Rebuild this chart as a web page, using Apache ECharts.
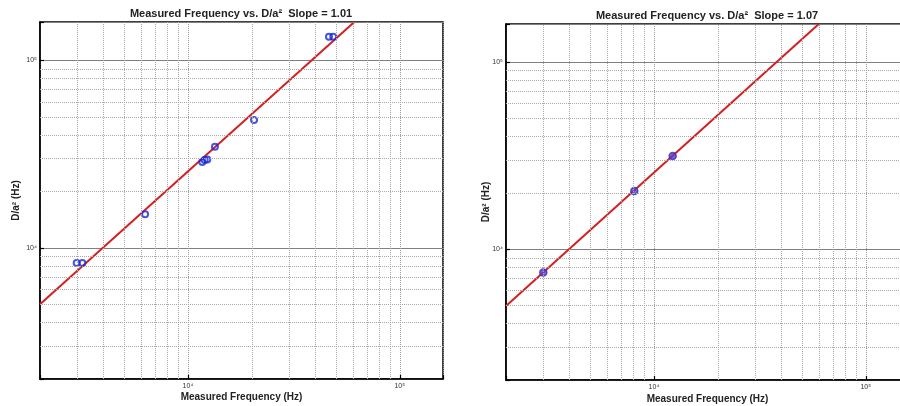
<!DOCTYPE html>
<html>
<head>
<meta charset="utf-8">
<script src="https://cdn.jsdelivr.net/npm/echarts@6/dist/echarts.min.js"></script>
<style>
html,body{margin:0;padding:0;background:#fff;}
#c{width:900px;height:406px;}
</style>
</head>
<body>
<div id="c"></div>
<script>
// ---- data ----
const leftTitle = 'Measured Frequency vs. D/a²  Slope = 1.01';
const rightTitle = 'Measured Frequency vs. D/a²  Slope = 1.07';
const xName = 'Measured Frequency (Hz)';
const yName = 'D/a² (Hz)';
const axisMin = 2000;
const axisMax = 160000;
const minorGrid = [3000, 4000, 5000, 6000, 7000, 8000, 9000, 20000, 30000, 40000, 50000, 60000, 70000, 80000, 90000];

const leftX = [2980, 3170, 6270, 11680, 11990, 12330, 13400, 20500, 46300, 48500];
const leftY = [8300, 8300, 15100, 28700, 29400, 29600, 34600, 48000, 133700, 133700];
const leftFitX = [2000, 61000];
const leftFitY = [5000, 160000];

const rightX = [3000, 8070, 12250];
const rightY = [7500, 20500, 31500];
const rightFitX = [2000, 60000];
const rightFitY = [4980, 160000];

// ---- chart ----
const FONT = 'Liberation Sans, Arial, sans-serif';
const chart = echarts.init(document.getElementById('c'), null, {renderer: 'canvas'});

function pairs(xs, ys) { return xs.map((x, i) => [x, ys[i]]); }
function isDecade(v) { const l = Math.log10(v); return Math.abs(l - Math.round(l)) < 1e-6; }
const sup = {'0':'⁰','1':'¹','2':'²','3':'³','4':'⁴','5':'⁵','6':'⁶','7':'⁷','8':'⁸','9':'⁹'};
function decadeLabel(v) {
  if (!isDecade(v)) return '';
  const e = String(Math.round(Math.log10(v)));
  return '10' + e.split('').map(c => sup[c]).join('');
}

function xAxisCfg(gi, gap) {
  return {
    type: 'log', logBase: 10, gridIndex: gi, min: axisMin, max: axisMax,
    name: xName, nameLocation: 'middle', nameGap: gap, nameMoveOverlap: false,
    nameTextStyle: {fontFamily: FONT, fontWeight: 'bold', fontSize: 10, color: '#222'},
    axisLine: {show: true, onZero: false, lineStyle: {color: '#000', width: 1.5}},
    axisTick: {show: true, inside: true, length: 4, lineStyle: {color: '#000', width: 1.2}},
    axisLabel: {formatter: decadeLabel, fontFamily: FONT, fontSize: 7, color: '#333', margin: 4, showMinLabel: true, showMaxLabel: true},
    splitLine: {show: true, lineStyle: {color: '#999', type: 'dotted', width: 1}},
    minorTick: {show: false}, minorSplitLine: {show: false}
  };
}
function yAxisCfg(gi, gap) {
  return {
    type: 'log', logBase: 10, gridIndex: gi, min: axisMin, max: axisMax,
    name: yName, nameLocation: 'middle', nameGap: gap, nameMoveOverlap: false,
    nameTextStyle: {fontFamily: FONT, fontWeight: 'bold', fontSize: 10, color: '#222'},
    axisLine: {show: true, onZero: false, lineStyle: {color: '#000', width: 1.5}},
    axisTick: {show: true, inside: true, length: 4, lineStyle: {color: '#000', width: 1.2}},
    axisLabel: {formatter: decadeLabel, fontFamily: FONT, fontSize: 7, color: '#333', margin: 3},
    splitLine: {show: true, lineStyle: {color: '#808080', type: 'solid', width: 1}},
    minorTick: {show: false}, minorSplitLine: {show: false}
  };
}
function gridLinesSeries(gi) {
  const data = [];
  minorGrid.forEach(v => { data.push({xAxis: v}); data.push({yAxis: v}); });
  return {
    type: 'line', xAxisIndex: gi, yAxisIndex: gi, data: [], z: 1, silent: true,
    markLine: {
      silent: true, symbol: ['none', 'none'], animation: false,
      label: {show: false},
      lineStyle: {color: '#a8a8a8', type: 'dotted', width: 1},
      emphasis: {disabled: true},
      data: data
    }
  };
}

const option = {
  backgroundColor: '#fff',
  animation: false,
  grid: [
    {left: 40, top: 22, width: 403, height: 357, show: true, borderColor: '#000', borderWidth: 1.5, backgroundColor: 'transparent', outerBoundsMode: 'none', containLabel: false},
    {left: 506, top: 24, width: 403, height: 356, show: true, borderColor: '#000', borderWidth: 1.5, backgroundColor: 'transparent', outerBoundsMode: 'none', containLabel: false}
  ],
  xAxis: [xAxisCfg(0, 13), xAxisCfg(1, 14)],
  yAxis: [yAxisCfg(0, 19), yAxisCfg(1, 15)],
  graphic: [
    {type: 'text', x: 241, y: 14, style: {text: leftTitle, font: 'bold 11px ' + FONT, fill: '#222', align: 'center', verticalAlign: 'middle'}},
    {type: 'text', x: 707, y: 16, style: {text: rightTitle, font: 'bold 11px ' + FONT, fill: '#222', align: 'center', verticalAlign: 'middle'}}
  ],
  series: [
    gridLinesSeries(0),
    gridLinesSeries(1),
    {
      type: 'line', xAxisIndex: 0, yAxisIndex: 0, data: pairs(leftFitX, leftFitY),
      showSymbol: false, symbol: 'none', clip: true, z: 3,
      lineStyle: {color: '#d42020', width: 2}
    },
    {
      type: 'scatter', xAxisIndex: 0, yAxisIndex: 0, data: pairs(leftX, leftY),
      symbol: 'circle', symbolSize: 6, z: 4,
      itemStyle: {color: 'rgba(255,255,255,0)', borderColor: '#1a2bd6', borderWidth: 2}
    },
    {
      type: 'line', xAxisIndex: 1, yAxisIndex: 1, data: pairs(rightFitX, rightFitY),
      showSymbol: false, symbol: 'none', clip: true, z: 3,
      lineStyle: {color: '#d42020', width: 2}
    },
    {
      type: 'scatter', xAxisIndex: 1, yAxisIndex: 1, data: pairs(rightX, rightY),
      symbol: 'circle', symbolSize: 7, z: 4,
      itemStyle: {color: '#6a3cb0', borderColor: '#2630d8', borderWidth: 1.5}
    }
  ]
};
chart.setOption(option);
</script>
</body>
</html>
